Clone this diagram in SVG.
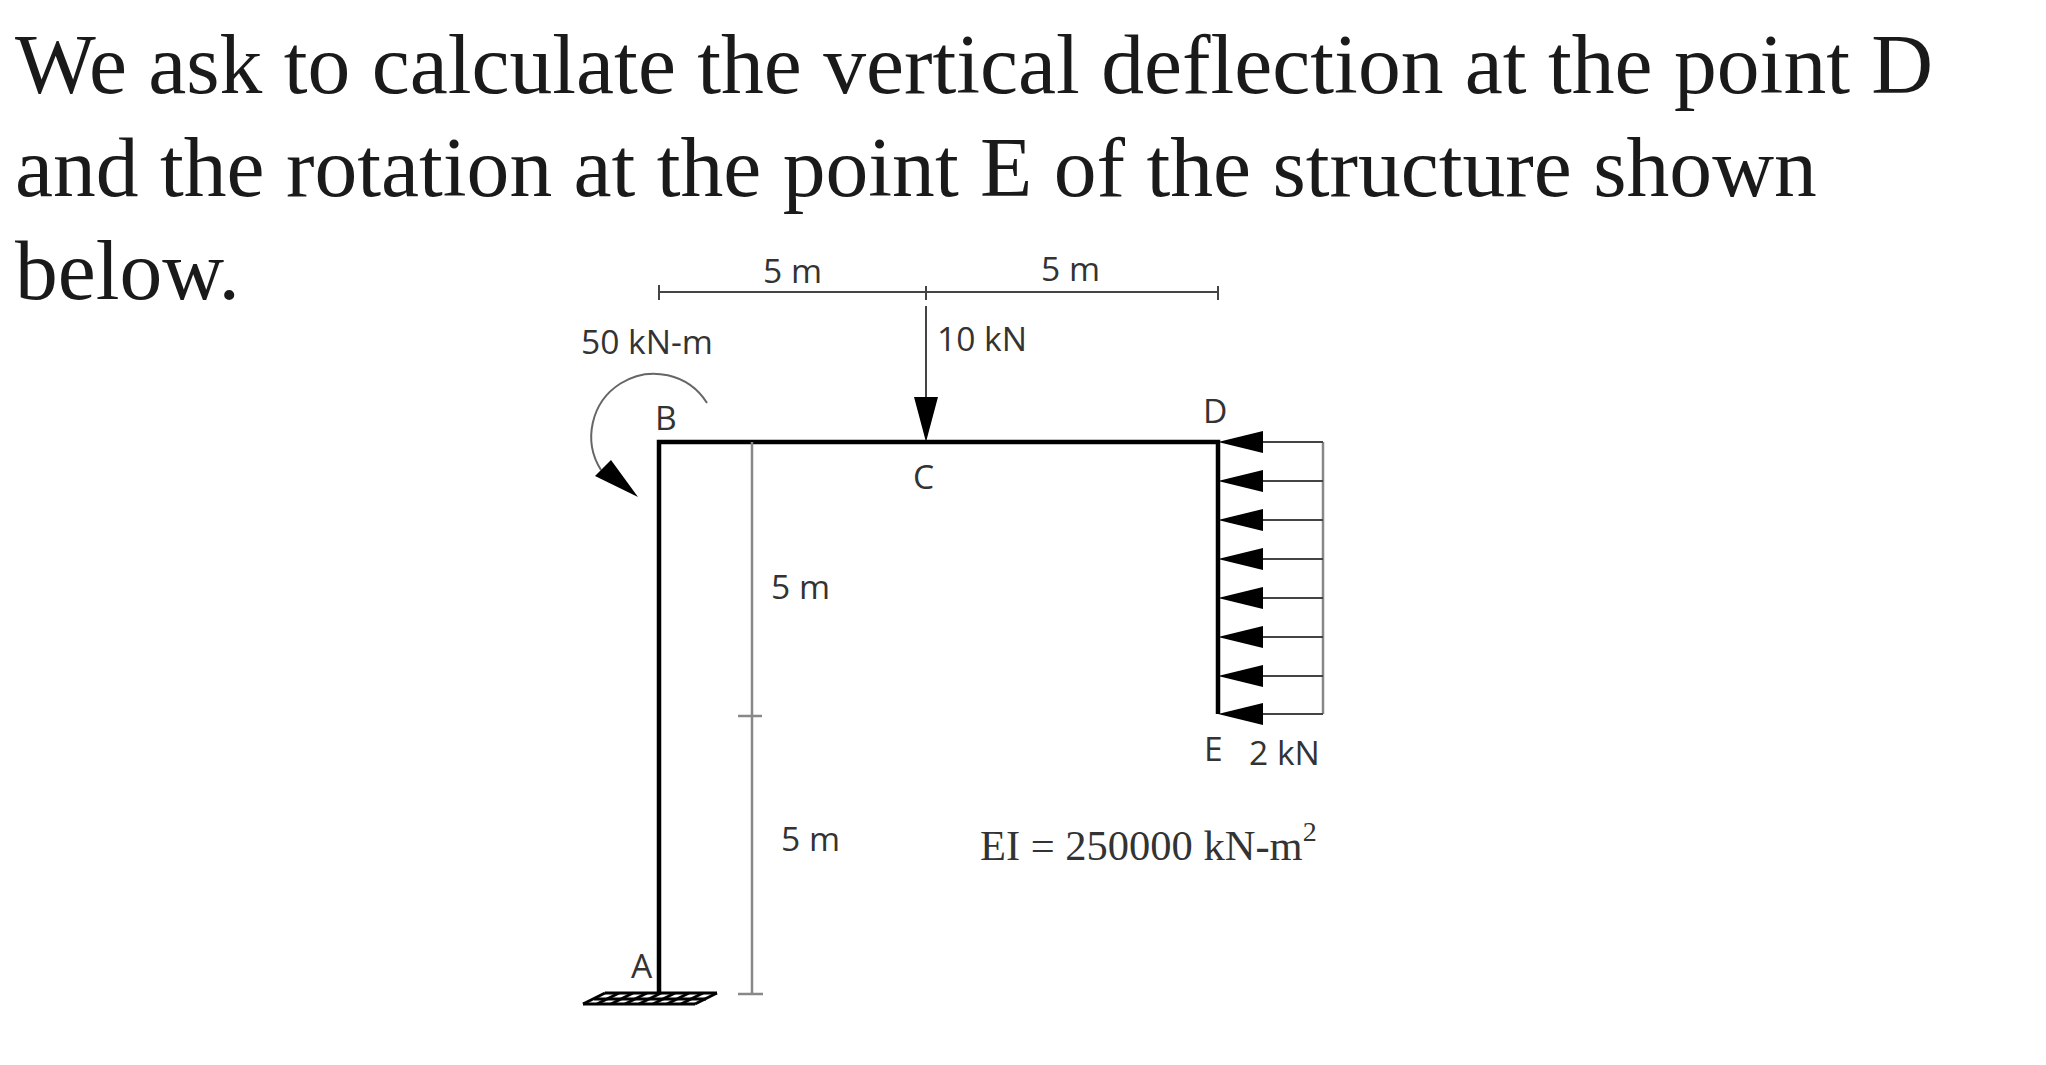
<svg xmlns="http://www.w3.org/2000/svg" width="2046" height="1065" viewBox="0 0 2046 1065">
<style>
.h{font-family:"Liberation Serif",serif;font-size:85.6px;fill:#1a1a1a}
.l{font-family:"Open Sans","Noto Sans",sans-serif;font-size:33.6px;fill:#333}
.e{font-family:"Liberation Serif",serif;font-size:42.5px;fill:#333}
.m{fill:none;stroke:#000;stroke-width:4.5}
.d{fill:none;stroke:#444;stroke-width:2}
.c{fill:none;stroke:#666;stroke-width:2}
.g{fill:none;stroke:#888;stroke-width:2.5}
.a{fill:#000}
</style>
<rect width="2046" height="1065" fill="#fff"/>
<g id="heading">
<text class="h" x="15" y="93">We ask to calculate the vertical deflection at the point D</text>
<text class="h" x="15" y="196">and the rotation at the point E of the structure shown</text>
<text class="h" x="15" y="299">below.</text>
</g>
<g id="frame">
<path class="m" d="M659 993V442H1218V714"/>
</g>
<g id="support-A">
<path d="M605 993H717M594 999H706M583 1004H695" fill="none" stroke="#000" stroke-width="3"/>
<path d="M605 993L583 1004M619 993L597 1004M633 993L611 1004M647 993L625 1004M661 993L639 1004M675 993L653 1004M689 993L667 1004M703 993L681 1004M717 993L695 1004" fill="none" stroke="#000" stroke-width="3"/>
<text class="l" x="631" y="978">A</text>
</g>
<g id="connectors">
<path class="d" d="M659 292H1218M659 285V300M926 286V300M1218 286V300"/>
<path class="g" d="M752 442V994M738 716H762M738 994H763"/>
<path class="d" d="M926 306V400"/>
<path class="c" d="M707 403A60 60 0 1 0 601 470"/>
<path class="g" d="M1323 442V714"/>
<path class="d" d="M1260 442H1323M1260 481H1323M1260 520H1323M1260 559H1323M1260 598H1323M1260 637H1323M1260 676H1323M1260 714H1323"/>
</g>
<g id="arrowheads">
<path class="a" d="M914 397H938L926 442Z"/>
<path class="a" d="M638 497L595 476L611 460Z"/>
<path class="a" d="M1218 442L1263 431V453Z"/>
<path class="a" d="M1218 481L1263 470V492Z"/>
<path class="a" d="M1218 520L1263 509V531Z"/>
<path class="a" d="M1218 559L1263 548V570Z"/>
<path class="a" d="M1218 598L1263 587V609Z"/>
<path class="a" d="M1218 637L1263 626V648Z"/>
<path class="a" d="M1218 676L1263 665V687Z"/>
<path class="a" d="M1218 714L1263 703V725Z"/>
</g>
<g id="labels">
<text class="l" x="763" y="283">5 m</text>
<text class="l" x="1041" y="281">5 m</text>
<text class="l" x="581" y="354">50 kN-m</text>
<text class="l" x="937" y="351">10 kN</text>
<text class="l" x="655" y="430">B</text>
<text class="l" x="913" y="489">C</text>
<text class="l" x="1203" y="423">D</text>
<text class="l" x="1204" y="761">E</text>
<text class="l" x="1249" y="765">2 kN</text>
<text class="l" x="771" y="599">5 m</text>
<text class="l" x="781" y="851">5 m</text>
<text class="e" x="980" y="860">EI = 250000 kN-m<tspan font-size="28" dy="-19">2</tspan></text>
</g>
</svg>
